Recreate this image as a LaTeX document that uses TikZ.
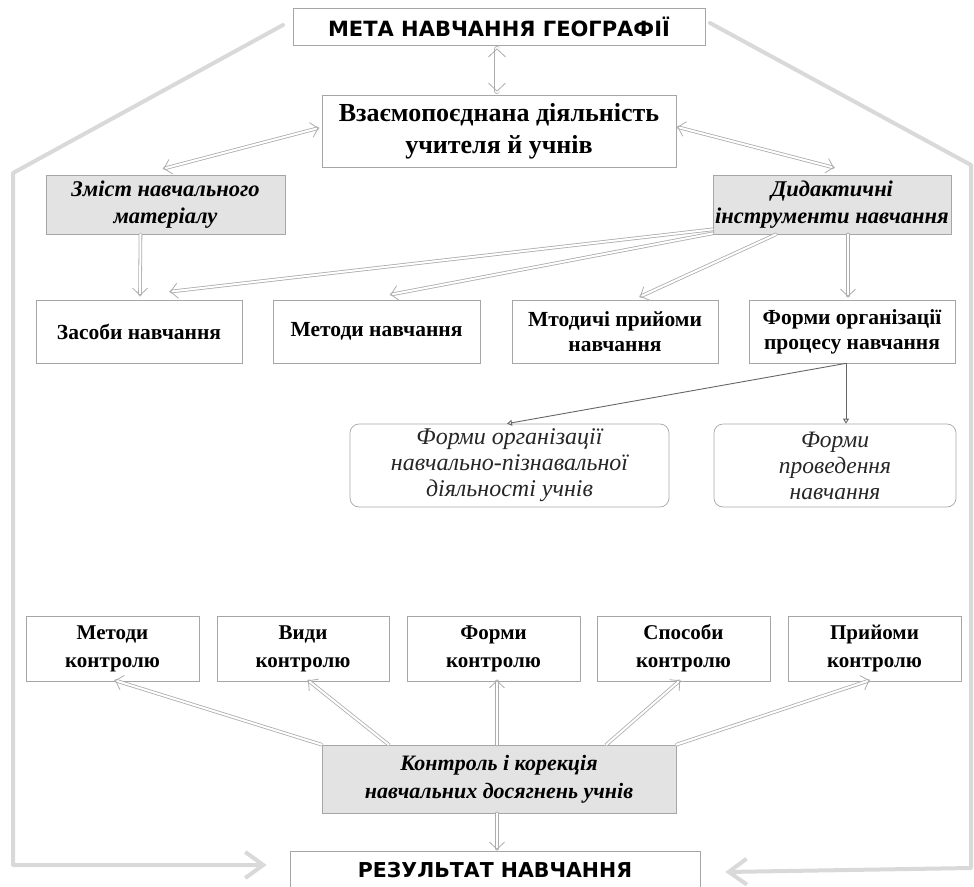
\documentclass[tikz,border=0pt]{standalone}
\usepackage{fontspec}
\setmainfont{Liberation Serif}
\setsansfont{Liberation Sans}
\newfontfamily\headfont{DejaVu Sans}
\usetikzlibrary{arrows.meta,calc}
\tikzset{
	box/.style={draw=gray!70, line width=0.7pt, align=center, inner sep=2pt, font=\fontsize{21.5}{25}\selectfont\bfseries},
	ctrl/.style={box, minimum width=173, minimum height=65, font=\fontsize{21}{28}\selectfont\bfseries},
	grbox/.style={box, fill=gray!22, font=\fontsize{22.5}{27}\selectfont\bfseries\itshape},
	rbox/.style={box, rounded corners=9pt, text=black!85, font=\fontsize{23.5}{26}\selectfont\itshape},
	headbox/.style={box, font=\fontsize{21}{24}\selectfont\headfont\bfseries},
	dbl/.style={draw=gray!65, double=white, double distance=2pt, line width=0.8pt, -{Straight Barb[length=7pt,width=15pt]}},
	thinarr/.style={draw=gray!80!black, line width=0.9pt, -{Triangle[open,length=5pt,width=6pt]}},
	framearr/.style={draw=gray!30, line width=4pt, line join=round, -{Straight Barb[length=18pt,width=26pt]}}
}
\begin{document}
\begin{tikzpicture}[x=1pt, y=-1pt, line cap=round]

	\useasboundingbox (0,0) rectangle (974,886);

	\node[headbox, minimum width=412, minimum height=37] (meta) at (499,26.5) {МЕТА НАВЧАННЯ ГЕОГРАФІЇ};

	\node[box, minimum width=354, minimum height=72, font=\fontsize{26}{32}\selectfont\bfseries] (vzaem) at (499,131) {Взаємопоєднана діяльність\\учителя й учнів};

	\node[grbox, minimum width=239, minimum height=59] (zmist) at (165.5,204.5) {Зміст навчального\\матеріалу};

	\node[grbox, minimum width=238, minimum height=59] (dydak) at (832,204.5) {Дидактичні\\інструменти навчання};

	\node[box, minimum width=206, minimum height=63] (zasoby) at (139,331.5) {Засоби навчання};

	\node[box, minimum width=207, minimum height=63] (metody) at (376.5,331.5) {Методи навчання};

	\node[box, minimum width=206, minimum height=63] (pryiomy) at (615,331.5) {Мтодичі прийоми\\навчання};

	\node[box, minimum width=206, minimum height=63] (formy) at (852,331.5) {Форми організації\\процесу навчання};

	\node[rbox, minimum width=319, minimum height=83, font=\fontsize{24}{26}\selectfont\itshape] (formyOrg) at (509.5,465.5) {Форми організації\\навчально-пізнавальної\\діяльності учнів};

	\node[rbox, minimum width=242, minimum height=83] (formyProv) at (835,465.5) {Форми\\проведення\\навчання};

	\node[ctrl, minimum width=173] (mk) at (112.5,648.5) {Методи\\контролю};

	\node[ctrl, minimum width=172] (vk) at (303,648.5) {Види\\контролю};

	\node[ctrl] (fk) at (493.5,648.5) {Форми\\контролю};

	\node[ctrl] (sk) at (683.5,648.5) {Способи\\контролю};

	\node[ctrl] (pk) at (874.5,648.5) {Прийоми\\контролю};

	\node[grbox, minimum width=354, minimum height=68, font=\fontsize{22}{28}\selectfont\bfseries\itshape] (kontrol) at (499,779) {Контроль і корекція\\навчальних досягнень учнів};

	\node[headbox, minimum width=410, minimum height=38, font=\fontsize{20.5}{24}\selectfont\headfont\bfseries] (rez) at (495,870) {РЕЗУЛЬТАТ НАВЧАННЯ};

	\coordinate (L1) at (283,25);

	\coordinate (L2) at (13,173);

	\coordinate (L3) at (13,865);

	\coordinate (R1) at (710,23);

	\coordinate (R2) at (971,165);

	\coordinate (R3) at (971,868);

	\draw[framearr] (L1)--(L2)--(L3)--($(rez.west)+(-23,-5)$);

	\draw[framearr] (R1)--(R2)--(R3)--($(rez.east)+(25,2)$);

	\draw[dbl, double distance=5pt, {Straight Barb[length=8pt,width=17pt]}-{Straight Barb[length=8pt,width=17pt]}] ($(meta.south)+(-2,3)$)--($(vzaem.north)+(-2,-3)$);

	\draw[dbl, {Straight Barb[length=7pt,width=15pt]}-{Straight Barb[length=7pt,width=15pt]}] ($(vzaem.west)+(-3,-3)$)--($(zmist.north)+(-2,-6)$);

	\draw[dbl, {Straight Barb[length=7pt,width=15pt]}-{Straight Barb[length=7pt,width=15pt]}] ($(vzaem.east)+(1,-4)$)--($(dydak.north)+(2,-7)$);

	\draw[dbl] ($(zmist.south)+(-25,0)$)--($(zasoby.north)+(1,-4)$);

	\draw[dbl] ($(dydak.south west)+(0,-5)$)--($(zasoby.north)+(31,-8)$);

	\draw[dbl] ($(dydak.south west)+(0,-1)$)--($(metody.north)+(14,-5)$);

	\draw[dbl] ($(dydak.south)+(-56,0)$)--($(pryiomy.north)+(25,-3)$);

	\draw[dbl] ($(dydak.south)+(16,0)$)--($(formy.north)+(-4,-3)$);

	\draw[thinarr] ($(formy.south)+(-6,0)$)--($(formyOrg.north)+(-2.5,0)$);

	\draw[thinarr] ($(formy.south)+(-6,0)$)--($(formyProv.north)+(11,0)$);

	\draw[dbl] (kontrol.north west)--($(mk.south)+(2.5,-1)$);

	\draw[dbl] ($(kontrol.north west)+(67,0)$)--($(vk.south)+(5,-1)$);

	\draw[dbl] ($(kontrol.north)+(-2,0)$)--($(kontrol.north |- fk.south)+(-2,-1)$);

	\draw[dbl] ($(kontrol.north east)+(-70,0)$)--($(sk.south)+(-3.5,-1)$);

	\draw[dbl] (kontrol.north east)--($(pk.south)+(-5,-1)$);

	\draw[dbl] ($(kontrol.south)+(-2,0)$)--($(kontrol.south |- rez.north)+(-2,-1)$);

\end{tikzpicture}
\end{document}
